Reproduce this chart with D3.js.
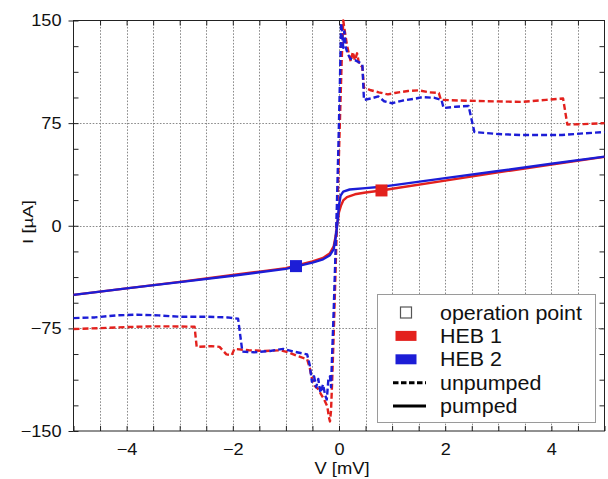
<!DOCTYPE html>
<html>
<head>
<meta charset="utf-8">
<script src="https://cdn.jsdelivr.net/npm/d3@7"></script>
<style>
  html, body { margin: 0; padding: 0; background: #fff; }
  svg { display: block; }
  text { font-family: "Liberation Sans", Arial, sans-serif; fill: #111; }
</style>
</head>
<body>
<svg id="chart" width="608" height="479"></svg>
<script>
// ---------------- data ----------------
const xTickLabels = [-4, -2, 0, 2, 4];
const yTickLabels = [-150, -75, 0, 75, 150];
const xGridStep = 0.5;
const yMinorStep = 18.75;

// HEB 1 unpumped  [V (mV), I (µA)]
const heb1Unpumped = [
  [-5,-75.5],[-4.5,-74.8],[-4,-74],[-3.5,-73.5],[-3,-73.6],[-2.72,-73.8],[-2.68,-88.5],[-2.4,-88],
  [-2.25,-88.5],[-2.12,-94],[-2.02,-94.5],[-1.97,-90],[-1.7,-91],[-1.4,-91.5],[-1.1,-91],[-0.95,-92.5],
  [-0.8,-95],[-0.6,-97.5],[-0.55,-104],[-0.52,-110],[-0.46,-117],[-0.4,-119],[-0.34,-123],[-0.28,-127],
  [-0.22,-132],[-0.19,-140],[-0.17,-143],[-0.15,-135],[-0.13,-115],[-0.1,-80],[-0.07,-40],[-0.04,0],
  [-0.01,40],[0.02,80],[0.05,120],[0.08,150],[0.11,142],[0.15,132],[0.19,125],[0.22,120],[0.26,127],
  [0.3,121],[0.34,126],[0.38,118],[0.44,116],[0.47,101],[0.6,99],[0.75,97.5],[0.92,96],[1.05,97],
  [1.3,98.5],[1.5,99],[1.7,97.5],[1.88,97],[1.92,92],[2.3,91.5],[2.8,91],[3.45,90.5],[3.9,92],
  [4.22,93],[4.3,74],[4.6,74.3],[5,75]
];
// HEB 2 unpumped
const heb2Unpumped = [
  [-5,-67.5],[-4.6,-67],[-4.2,-65.5],[-3.8,-65],[-3.4,-65.5],[-3,-66.5],[-2.5,-66.5],[-2.1,-67],
  [-1.9,-68],[-1.82,-92],[-1.6,-92.5],[-1.3,-91.5],[-1.05,-90],[-0.85,-92],[-0.6,-94],[-0.55,-102],
  [-0.51,-114],[-0.47,-110],[-0.43,-118],[-0.39,-112],[-0.35,-122],[-0.3,-116],[-0.26,-124],[-0.23,-127],
  [-0.2,-112],[-0.17,-110],[-0.15,-118],[-0.13,-95],[-0.1,-62],[-0.07,-25],[-0.04,15],[-0.01,60],
  [0.02,110],[0.04,148],[0.06,140],[0.08,130],[0.1,142],[0.13,130],[0.17,125],[0.22,122],[0.3,121],
  [0.4,119],[0.44,118],[0.47,92],[0.6,93],[0.74,94.5],[0.85,91],[1.0,89.5],[1.2,91.5],[1.45,93],
  [1.57,94],[1.8,93.5],[1.93,92],[1.97,86],[2.2,87],[2.44,87.5],[2.55,68.5],[3,67],[3.45,66.3],
  [4.2,66.3],[4.6,67.5],[5,68.5]
];
// HEB 1 pumped
const heb1Pumped = [
  [-5,-50.5],[-4,-45.8],[-3,-41],[-2,-36],[-1.5,-33.5],[-1,-31],[-0.5,-26],[-0.3,-23.5],[-0.17,-20],
  [-0.1,-15],[-0.06,-7],[-0.03,2],[0,10],[0.04,15],[0.08,18.5],[0.15,21],[0.3,23],[0.5,24.3],
  [0.8,25.8],[1,27],[2,33],[3,39],[4,44.8],[5,50.3]
];
// HEB 2 pumped
const heb2Pumped = [
  [-5,-50.5],[-4,-45.8],[-3,-41.2],[-2,-36.5],[-1.5,-34],[-1,-31.5],[-0.5,-27],[-0.3,-24.5],[-0.17,-21.5],
  [-0.1,-17],[-0.06,-8],[-0.03,2],[0,15],[0.03,22],[0.08,25],[0.2,26.5],[0.5,27.5],[0.8,28.5],
  [1,29.5],[2,34.8],[3,40],[4,45.3],[5,50.5]
];
// operation points
const operationPoints = [
  { heb: "HEB 1", v: 0.80, i: 25.8 },
  { heb: "HEB 2", v: -0.81, i: -29.5 }
];
const legendItems = ["operation point", "HEB 1", "HEB 2", "unpumped", "pumped"];

// ---------------- drawing ----------------
const colors = { "HEB 1": "#e3211d", "HEB 2": "#1c1dd6" };
const svg = d3.select("#chart");
const L = 73.5, R = 604.5, T = 20.5, B = 431;

const x = d3.scaleLinear().domain([-5, 5]).range([L, R]);
const y = d3.scaleLinear().domain([-150, 150]).range([B, T]);

const xGrid = d3.range(-5 + xGridStep, 5 - 1e-9, xGridStep);
const yMinor = d3.range(-150 + yMinorStep, 150 - 1e-9, yMinorStep);
const yMajorInner = yTickLabels.filter(d => d > -150 && d < 150);

// grid
const grid = svg.append("g").attr("stroke", "#8a8a8a").attr("stroke-width", 1)
  .attr("stroke-dasharray", "1.6,1.6").attr("fill", "none");
grid.selectAll("line.v").data(xGrid).join("line")
  .attr("x1", d => Math.round(x(d)) + 0.5).attr("x2", d => Math.round(x(d)) + 0.5)
  .attr("y1", T).attr("y2", B);
grid.selectAll("line.h").data(yMajorInner).join("line")
  .attr("y1", d => Math.round(y(d)) + 0.5).attr("y2", d => Math.round(y(d)) + 0.5)
  .attr("x1", L).attr("x2", R);

function stretchText(sel, k) {
  sel.each(function () {
    const w = this.getComputedTextLength();
    d3.select(this).attr("textLength", w * k).attr("lengthAdjust", "spacingAndGlyphs");
  });
}

const fmt = d => (xTickLabels.includes(d) ? d3.format("d")(d) : "");
const fmtY = d => (yTickLabels.includes(d) ? d3.format("d")(d) : "");

// bottom axis
const gB = svg.append("g").attr("transform", `translate(0,${B})`)
  .call(d3.axisBottom(x).tickValues(d3.range(-5, 5.0001, xGridStep)).tickFormat(fmt)
    .tickSizeInner(-5).tickSizeOuter(0).tickPadding(12));
// top axis
const gT = svg.append("g").attr("transform", `translate(0,${T})`)
  .call(d3.axisTop(x).tickValues(xGrid).tickFormat("").tickSizeInner(-5).tickSizeOuter(0));
// left axis
const gL = svg.append("g").attr("transform", `translate(${L},0)`)
  .call(d3.axisLeft(y).tickValues(d3.range(-150, 150.0001, yMinorStep)).tickFormat(fmtY)
    .tickSizeInner(-5).tickSizeOuter(0).tickPadding(12));
const gL2 = svg.append("g").attr("transform", `translate(${L},0)`)
  .call(d3.axisLeft(y).tickValues(yTickLabels).tickFormat("").tickSizeInner(5).tickSizeOuter(0));
// right axis
const gR = svg.append("g").attr("transform", `translate(${R},0)`)
  .call(d3.axisRight(y).tickValues(yMinor).tickFormat("").tickSizeInner(-5).tickSizeOuter(0));

[gB, gT, gL, gL2, gR].forEach(g => {
  g.select(".domain").remove();
  g.selectAll(".tick line").attr("stroke", "#222").attr("stroke-width", 1);
  g.selectAll("text").attr("font-family", "Liberation Sans, Arial, sans-serif")
    .attr("font-size", 16.5).attr("fill", "#111");
});
gB.selectAll("text").filter(function () { return this.textContent === ""; }).remove();
stretchText(gB.selectAll("text"), 1.1);
stretchText(gL.selectAll("text"), 1.1);

// frame
svg.append("rect").attr("x", L).attr("y", T).attr("width", R - L).attr("height", B - T)
  .attr("fill", "none").attr("stroke", "#222").attr("stroke-width", 1);

// axis labels
const xl = svg.append("text").attr("x", 342).attr("y", 473.5).attr("text-anchor", "middle")
  .attr("font-size", 17).text("V [mV]");
stretchText(xl, 1.08);
const yl = svg.append("text").attr("transform", "translate(33,222) rotate(-90)")
  .attr("text-anchor", "middle").attr("font-size", 15.5).text("I [µA]");
stretchText(yl, 1.2);

// curves
const line = d3.line().x(d => x(d[0])).y(d => y(d[1]));
const plot = svg.append("g");
const series = [
  { data: heb1Unpumped, heb: "HEB 1", dash: "6,3" },
  { data: heb2Unpumped, heb: "HEB 2", dash: "6,3" },
  { data: heb1Pumped, heb: "HEB 1", dash: null },
  { data: heb2Pumped, heb: "HEB 2", dash: null }
];
plot.selectAll("path").data(series).join("path")
  .attr("d", d => line(d.data))
  .attr("fill", "none")
  .attr("stroke", d => colors[d.heb])
  .attr("stroke-width", 2.4)
  .attr("stroke-linejoin", "round")
  .attr("stroke-dasharray", d => d.dash);

// operation points
const sq = 12;
plot.selectAll("rect.op").data(operationPoints).join("rect")
  .attr("class", "op")
  .attr("x", d => x(d.v) - sq / 2).attr("y", d => y(d.i) - sq / 2)
  .attr("width", sq).attr("height", sq)
  .attr("fill", d => colors[d.heb]);

// legend
const lg = svg.append("g");
lg.append("rect").attr("x", 377.5).attr("y", 294.5).attr("width", 218).attr("height", 128)
  .attr("fill", "#fff").attr("stroke", "#9a9a9a").attr("stroke-width", 1);
const rowY = i => 312.5 + i * 23.4;
lg.selectAll("text").data(legendItems).join("text")
  .attr("x", 440).attr("y", (d, i) => rowY(i) + 7)
  .attr("font-size", 19.5).text(d => d)
  .each(function () {
    const w = this.getComputedTextLength();
    d3.select(this).attr("textLength", w * 1.1).attr("lengthAdjust", "spacingAndGlyphs");
  });
// operation point marker
lg.append("rect").attr("x", 400.5).attr("y", rowY(0) - 5.5).attr("width", 11).attr("height", 11)
  .attr("fill", "#fff").attr("stroke", "#555").attr("stroke-width", 1.2);
// HEB swatches
["HEB 1", "HEB 2"].forEach((h, k) => {
  lg.append("rect").attr("x", 395.5).attr("y", rowY(k + 1) - 5).attr("width", 21).attr("height", 10)
    .attr("fill", colors[h]);
});
// line style samples
lg.append("line").attr("x1", 393).attr("x2", 426).attr("y1", rowY(3)).attr("y2", rowY(3))
  .attr("stroke", "#000").attr("stroke-width", 3).attr("stroke-dasharray", "5.5,2.5");
lg.append("line").attr("x1", 393).attr("x2", 426).attr("y1", rowY(4)).attr("y2", rowY(4))
  .attr("stroke", "#000").attr("stroke-width", 3);
</script>
</body>
</html>
